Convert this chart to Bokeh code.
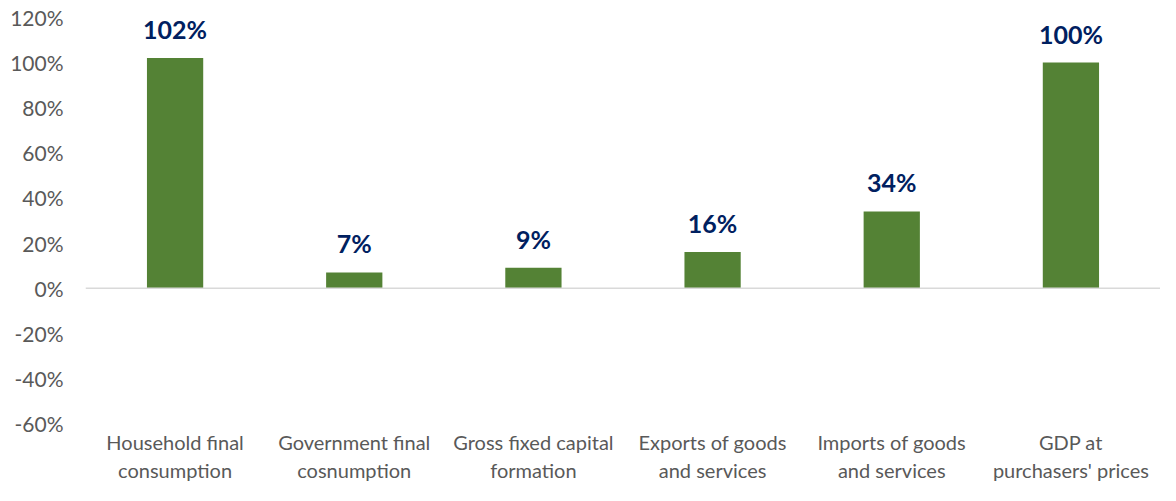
from bokeh.plotting import figure
from bokeh.models import ColumnDataSource, Range1d, NumeralTickFormatter, FixedTicker, Span, LabelSet
from bokeh.core.properties import value
from bokeh.embed import file_html
from bokeh.resources import INLINE

categories = ["Household final\nconsumption", "Government final\ncosnumption", "Gross fixed capital\nformation",
              "Exports of goods\nand services", "Imports of goods\nand services", "GDP at\npurchasers' prices"]
values = [1.02, 0.07, 0.09, 0.16, 0.34, 1.00]
value_labels = ["102%", "7%", "9%", "16%", "34%", "100%"]
y_ticks = [-0.6, -0.4, -0.2, 0.0, 0.2, 0.4, 0.6, 0.8, 1.0, 1.2]

FONT = "Lato"
src = ColumnDataSource(dict(cat=categories, val=values, lab=value_labels))

p = figure(x_range=categories, y_range=Range1d(-0.6, 1.2), width=1160, height=485,
           output_backend="svg", toolbar_location=None,
           min_border_left=85, min_border_right=0, min_border_top=17, min_border_bottom=58)
p.outline_line_color = None
p.grid.grid_line_color = None

p.vbar(x="cat", top="val", bottom=0, width=0.314, source=src, fill_color="#548235", line_color=None)

p.add_layout(Span(location=0, dimension="width", line_color="#d9d9d9", line_width=1.5))

labels = LabelSet(x="cat", y="val", text="lab", source=src, y_offset=19, text_align="center",
                  text_baseline="alphabetic", text_font=value(FONT), text_font_style="bold",
                  text_font_size="25px", text_color="#002060")
p.add_layout(labels)

p.yaxis.ticker = FixedTicker(ticks=y_ticks)
p.yaxis.formatter = NumeralTickFormatter(format="0%")
p.yaxis.axis_line_color = None
p.yaxis.major_tick_line_color = None
p.yaxis.minor_tick_line_color = None
p.yaxis.major_label_text_font = FONT
p.yaxis.major_label_text_font_size = "21px"
p.yaxis.major_label_text_color = "#595959"
p.yaxis.major_label_standoff = 16

p.xaxis.axis_line_color = None
p.xaxis.major_tick_line_color = None
p.xaxis.minor_tick_line_color = None
p.xaxis.major_label_text_font = FONT
p.xaxis.major_label_text_font_size = "20px"
p.xaxis.major_label_text_color = "#595959"
p.xaxis.major_label_standoff = 0
p.x_range.range_padding = 0

open("out.html", "w").write(file_html(p, INLINE))
